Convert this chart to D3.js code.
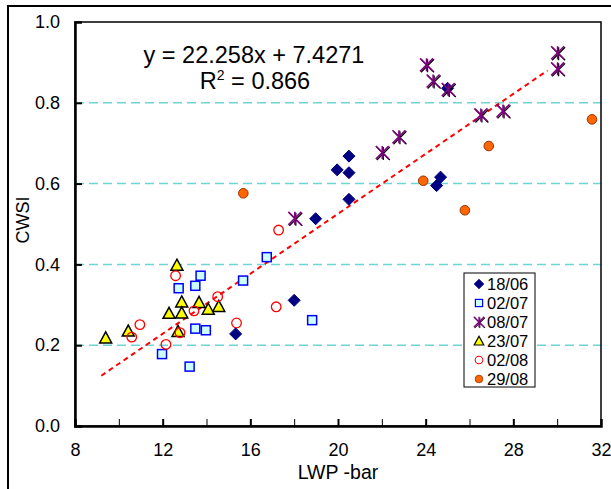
<!DOCTYPE html>
<html>
<head>
<meta charset="utf-8">
<script src="https://cdn.jsdelivr.net/npm/d3@7"></script>
<style>
  body { margin: 0; background: #fff; }
  text { font-family: "Liberation Sans", Arial, sans-serif; fill: #000; }
</style>
</head>
<body>
<div id="chart"></div>
<script>
// series data (LWP in bar, CWSI)
const lwp_1806 = [15.33, 18.0, 18.98, 19.96, 20.5, 20.5, 20.5, 24.5, 24.68, 25.0];
const cwsi_1806 = [0.228, 0.311, 0.513, 0.634, 0.668, 0.627, 0.561, 0.595, 0.616, 0.836];

const lwp_0207 = [11.97, 12.73, 13.23, 13.49, 13.49, 13.73, 13.97, 15.67, 16.75, 18.82];
const cwsi_0207 = [0.178, 0.341, 0.147, 0.347, 0.241, 0.372, 0.237, 0.36, 0.418, 0.262];

const lwp_0807 = [18.03, 22.02, 22.78, 24.04, 24.34, 25.03, 26.52, 27.53, 30.02, 30.02];
const cwsi_0807 = [0.514, 0.677, 0.716, 0.894, 0.854, 0.833, 0.770, 0.780, 0.924, 0.884];

const lwp_2307 = [9.4, 10.43, 12.29, 12.65, 12.7, 12.87, 12.87, 13.66, 14.08, 14.56];
const cwsi_2307 = [0.218, 0.235, 0.279, 0.398, 0.234, 0.307, 0.280, 0.306, 0.289, 0.296];

const lwp_0208 = [10.59, 10.96, 12.15, 12.59, 12.79, 13.43, 14.51, 15.37, 17.18, 17.29];
const cwsi_0208 = [0.220, 0.251, 0.202, 0.372, 0.231, 0.285, 0.320, 0.255, 0.295, 0.485];

const lwp_2908 = [15.68, 23.89, 25.79, 26.88, 31.59];
const cwsi_2908 = [0.576, 0.607, 0.534, 0.693, 0.759];

const seriesNames = ["18/06", "02/07", "08/07", "23/07", "02/08", "29/08"];
const trendLwp = [9.2, 29.56];
const trendCwsi = [0.1245, 0.880];

const xTicks = [8, 12, 16, 20, 24, 28, 32];
const xMinorTicks = [10, 14, 18, 22, 26, 30];
const yTicks = [0.0, 0.2, 0.4, 0.6, 0.8, 1.0];
const gridTicks = [0.2, 0.4, 0.6, 0.8];

const equationText = "y = 22.258x + 7.4271";

const margin = { top: 22, right: 10, bottom: 63, left: 75 };
const W = 611, H = 489;
const width = W - margin.left - margin.right;
const height = H - margin.top - margin.bottom;

const svg = d3.select("#chart").append("svg")
  .attr("width", W)
  .attr("height", H);

// outer frame (cut by the picture edge)
svg.append("rect")
  .attr("x", 8).attr("y", 6)
  .attr("width", 700).attr("height", 600)
  .attr("fill", "none")
  .attr("stroke", "#000")
  .attr("stroke-width", 2);

const g = svg.append("g")
  .attr("transform", "translate(" + margin.left + "," + margin.top + ")");

const x = d3.scaleLinear().domain([8, 32]).range([0, width]);
const y = d3.scaleLinear().domain([0, 1]).range([height, 0]);

// grid lines
g.selectAll(".grid")
  .data(gridTicks)
  .enter()
  .append("line")
  .attr("x1", 0).attr("x2", width)
  .attr("y1", d => y(d)).attr("y2", d => y(d))
  .attr("stroke", "#6fd4d4")
  .attr("stroke-width", 1.5)
  .attr("stroke-dasharray", "9,5");

// plot frame
g.append("rect")
  .attr("width", width).attr("height", height)
  .attr("fill", "none")
  .attr("stroke", "#000")
  .attr("stroke-width", 1.5);

// axes with inward ticks
const xAxis = g.append("g")
  .attr("transform", "translate(0," + height + ")")
  .call(d3.axisBottom(x).tickValues(xTicks).tickSize(-7).tickPadding(17).tickFormat(d3.format("d")));
g.append("g")
  .attr("transform", "translate(0," + height + ")")
  .call(d3.axisBottom(x).tickValues(xMinorTicks).tickSize(-7).tickFormat(""))
  .select(".domain").remove();
const yAxis = g.append("g")
  .call(d3.axisLeft(y).tickValues(yTicks).tickSize(-7).tickPadding(15).tickFormat(d3.format(".1f")));

[xAxis, yAxis].forEach(a => {
  a.select(".domain").attr("stroke-width", 2.5);
  a.selectAll(".tick line").attr("stroke-width", 2);
  a.selectAll("text").style("font-size", "18px").style("font-family", "Liberation Sans, Arial, sans-serif");
});
xAxis.selectAll(".tick line").filter(d => d === 8 || d === 32).remove();
yAxis.selectAll(".tick line").filter(d => d === 0 || d === 1).remove();
g.selectAll(".tick line").attr("stroke", "#000");

// regression line
g.append("line")
  .attr("x1", x(trendLwp[0])).attr("y1", y(trendCwsi[0]))
  .attr("x2", x(trendLwp[1])).attr("y2", y(trendCwsi[1]))
  .attr("stroke", "#ff0000")
  .attr("stroke-width", 2)
  .attr("stroke-dasharray", "5,4");

function pairs(xs, ys) { return xs.map((v, i) => [v, ys[i]]); }

// marker painters
const markers = {
  "18/06": sel => sel.append("path")
    .attr("d", "M0,-6L6,0L0,6L-6,0Z")
    .attr("fill", "#000080").attr("stroke", "#000080").attr("stroke-width", 1),
  "02/07": sel => sel.append("rect")
    .attr("x", -4.5).attr("y", -4.5).attr("width", 9).attr("height", 9)
    .attr("fill", "#ccffff").attr("stroke", "#0000ff").attr("stroke-width", 1.5),
  "08/07": sel => {
    const s = 6.5;
    const p = `M${-s},${-s}L${s},${s}M${-s},${s}L${s},${-s}M0,${-s}L0,${s}`;
    sel.append("path").attr("d", p).attr("transform", "translate(1,1)")
      .attr("stroke", "#000").attr("stroke-width", 1.3).attr("fill", "none");
    sel.append("path").attr("d", p)
      .attr("stroke", "#800080").attr("stroke-width", 1.6).attr("fill", "none");
  },
  "23/07": sel => sel.append("path")
    .attr("d", "M0,-6L6,5L-6,5Z")
    .attr("fill", "#ffff00").attr("stroke", "#000").attr("stroke-width", 1.5),
  "02/08": sel => sel.append("circle")
    .attr("r", 4.8)
    .attr("fill", "none").attr("stroke", "#ff0000").attr("stroke-width", 1.3),
  "29/08": sel => sel.append("circle")
    .attr("r", 4.8)
    .attr("fill", "#ff6600").attr("stroke", "#993300").attr("stroke-width", 1)
};

const seriesData = {
  "18/06": pairs(lwp_1806, cwsi_1806),
  "02/07": pairs(lwp_0207, cwsi_0207),
  "08/07": pairs(lwp_0807, cwsi_0807),
  "23/07": pairs(lwp_2307, cwsi_2307),
  "02/08": pairs(lwp_0208, cwsi_0208),
  "29/08": pairs(lwp_2908, cwsi_2908)
};

// draw order roughly as the picture stacks them
["02/07", "23/07", "02/08", "29/08", "18/06", "08/07"].forEach(name => {
  g.selectAll(null)
    .data(seriesData[name])
    .enter()
    .append("g")
    .attr("transform", d => "translate(" + x(d[0]) + "," + y(d[1]) + ")")
    .each(function() { markers[name](d3.select(this)); });
});

// equation
svg.append("text")
  .attr("x", 254).attr("y", 63)
  .attr("text-anchor", "middle")
  .style("font-size", "23.5px")
  .text(equationText);
const r2 = svg.append("text")
  .attr("x", 255).attr("y", 89)
  .attr("text-anchor", "middle")
  .style("font-size", "23.5px");
r2.append("tspan").text("R");
r2.append("tspan").attr("dy", -9).style("font-size", "14px").text("2");
r2.append("tspan").attr("dy", 9).text(" = 0.866");

// axis titles
svg.append("text")
  .attr("x", 338).attr("y", 479)
  .attr("text-anchor", "middle")
  .style("font-size", "19.5px")
  .text("LWP -bar");
svg.append("text")
  .attr("transform", "translate(29,220) rotate(-90)")
  .attr("text-anchor", "middle")
  .style("font-size", "18px")
  .text("CWSI");

// legend
const legend = svg.append("g").attr("transform", "translate(464,273)");
legend.append("rect")
  .attr("width", 71).attr("height", 114)
  .attr("fill", "#fff")
  .attr("stroke", "#000")
  .attr("stroke-width", 1);
const items = legend.selectAll(".item")
  .data(seriesNames)
  .enter()
  .append("g")
  .attr("transform", (d, i) => "translate(15," + (11 + i * 19) + ")");
items.each(function(d) {
  const it = d3.select(this);
  const m = it.append("g").attr("transform", "scale(0.8)");
  markers[d](m);
});
items.append("text")
  .attr("x", 8).attr("y", 6)
  .style("font-size", "16.5px")
  .text(d => d);
</script>
</body>
</html>
